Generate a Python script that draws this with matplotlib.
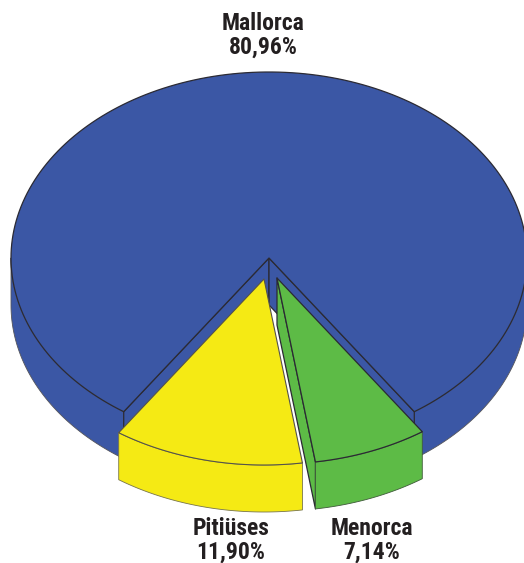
import numpy as np
import matplotlib
matplotlib.use('Agg')
import matplotlib.pyplot as plt
from matplotlib.patches import Polygon

# datos
zonas = ['Mallorca', 'Pitiüses', 'Menorca']
valores = [80.96, 11.90, 7.14]
etiquetas = ['80,96%', '11,90%', '7,14%']
colores = ['#3b57a5', '#f5ea14', '#5dbb46']

# geometria de la tarta, en pixeles
RX, RY = 258, 186
ALTO = 47
CENTROS = [(269, 258), (264, 279), (277, 278)]
POS_TEXTO = [(263, 30), (231, 535), (372, 535)]
SALTO = 24
LINEA = '#2b2a33'
FUENTE = ['Roboto Condensed', 'Barlow Semi Condensed', 'Liberation Sans']

def arco(c, t0, t1):
    t = np.radians(np.linspace(t0, t1, 200))
    return np.column_stack([c[0] + RX * np.cos(t), c[1] + RY * np.sin(t)])

def punto(c, t):
    return arco(c, t, t)[0]

def poligono(ax, pts, color, lw=0.9, ec=LINEA):
    ax.add_patch(Polygon(pts, closed=True, facecolor=color, edgecolor=ec, linewidth=lw, joinstyle='round'))

def lado_exterior(ax, c, t0, t1, color, ec='#55555a'):
    a = arco(c, t0, t1)
    poligono(ax, np.vstack([a, a[::-1] + [0, ALTO]]), color, lw=0.6, ec=ec)

fig = plt.figure(figsize=(5.24, 5.63), dpi=100)
ax = fig.add_axes([0, 0, 1, 1])
ax.set_xlim(0, 524)
ax.set_ylim(563, 0)
ax.axis('off')

# angulos: el hueco de las islas pequeñas queda centrado abajo (90 grados)
grados = [v / sum(valores) * 360 for v in valores]
inicio = 90 + (grados[1] + grados[2]) / 2
t_pit = inicio - grados[1]
t_men = t_pit - grados[2]

# Mallorca
c = CENTROS[0]
lado_exterior(ax, c, inicio, 180, colores[0])
lado_exterior(ax, c, 0, t_men, colores[0])
for t in [inicio, t_men]:
    p = punto(c, t)
    poligono(ax, [c, p, p + [0, ALTO], (c[0], c[1] + ALTO)], colores[0])
poligono(ax, np.vstack([[c], arco(c, inicio, t_men + 360)]), colores[0])

# Menorca
c = CENTROS[2]
p0, p1 = punto(c, t_pit), punto(c, t_men)
poligono(ax, [c, p0, p0 + [0, ALTO], (c[0], c[1] + ALTO)], colores[2])
lado_exterior(ax, c, t_men, t_pit, colores[2], ec='#3f5a3a')
poligono(ax, np.vstack([[c], arco(c, t_pit, t_men)]), colores[2])

# Pitiüses
c = CENTROS[1]
lado_exterior(ax, c, t_pit, inicio, colores[1], ec='#77744a')
poligono(ax, np.vstack([[c], arco(c, inicio, t_pit)]), colores[1], lw=0.8, ec='#55534a')

for zona, et, pos in zip(zonas, etiquetas, POS_TEXTO):
    for txt, y in [(zona, pos[1]), (et, pos[1] + SALTO)]:
        ax.text(pos[0], y, txt, ha='center', va='baseline', fontsize=17,
                fontweight=800, color='#231f20', family=FUENTE)

fig.savefig('out.png', dpi=100)
